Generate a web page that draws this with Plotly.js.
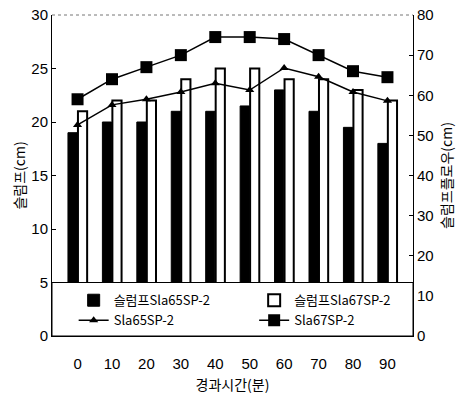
<!DOCTYPE html>
<html><head><meta charset="utf-8">
<script src="https://cdn.plot.ly/plotly-3.0.1.min.js"></script>
<style>body{margin:0;background:#fff}</style>
</head><body>
<div id="chart" style="width:469px;height:401px"></div>
<script>
var times = ['0','10','20','30','40','50','60','70','80','90'];
var slump65 = [19, 20, 20, 21, 21, 21.5, 23, 21, 19.5, 18];
var slump67 = [21, 22, 22, 24, 25, 25, 24, 24, 23, 22];
var flow65 = [52.6, 57.6, 59, 60.8, 63, 61.3, 66.8, 64.6, 60.8, 58.6];
var flow67 = [59, 64, 67, 70, 74.5, 74.5, 74, 70, 66, 64.5];
var names = ['슬럼프Sla65SP-2', '슬럼프Sla67SP-2', 'Sla65SP-2', 'Sla67SP-2'];

var tickFont = {family: 'Liberation Sans, Arial', size: 15, color: '#000'};
var cjk = 'Noto Sans CJK KR, sans-serif';

var traces = [
  {type: 'bar', x: times, y: slump65, name: names[0], legend: 'legend',
   marker: {color: '#000', line: {color: '#000', width: 1}}},
  {type: 'bar', x: times, y: slump67, name: names[1], legend: 'legend2',
   marker: {color: '#fff', line: {color: '#000', width: 2}}},
  {type: 'scatter', mode: 'lines+markers', x: times, y: flow65, yaxis: 'y2', name: names[2], legend: 'legend',
   line: {color: '#000', width: 1.5}, marker: {symbol: 'triangle-up', size: 8, color: '#000'}},
  {type: 'scatter', mode: 'lines+markers', x: times, y: flow67, yaxis: 'y2', name: names[3], legend: 'legend2',
   line: {color: '#000', width: 1.5}, marker: {symbol: 'square', size: 12, color: '#000'}}
];

var legFont = {family: cjk, size: 13, color: '#000'};
var layout = {
  width: 469, height: 401,
  margin: {l: 52, r: 56, t: 15, b: 65},
  paper_bgcolor: '#fff', plot_bgcolor: '#fff',
  showlegend: true,
  bargap: 0.42, bargroupgap: 0.08,
  xaxis: {type: 'category', tickfont: tickFont, showgrid: false, zeroline: false,
          showline: true, linecolor: '#000', linewidth: 1, ticks: '', ticklabelstandoff: 14,
          title: {text: '경과시간(분)', font: {family: cjk, size: 14, color: '#000'}, standoff: 9}},
  yaxis: {range: [0, 30], dtick: 5, tickfont: tickFont, showgrid: false, zeroline: false,
          showline: true, linecolor: '#000', linewidth: 1, ticks: 'inside', ticklen: 4, tickcolor: '#000',
          title: {text: '슬럼프(cm)', font: {family: cjk, size: 14, color: '#000'}, standoff: 2}},
  yaxis2: {range: [0, 80], dtick: 10, overlaying: 'y', side: 'right', tickfont: tickFont,
          showgrid: false, zeroline: false, showline: true, linecolor: '#000', linewidth: 1,
          ticks: 'inside', ticklen: 4, tickcolor: '#000',
          title: {text: '슬럼프플로우(cm)', font: {family: cjk, size: 14, color: '#000'}, standoff: 9}},
  shapes: [
    {type: 'rect', xref: 'paper', yref: 'y', x0: 0, x1: 1, y0: 0, y1: 5, layer: 'above',
     fillcolor: '#fff', line: {color: '#000', width: 1}},
    {type: 'line', xref: 'paper', yref: 'paper', x0: 0, x1: 1, y0: 1, y1: 1,
     line: {color: '#777', width: 1, dash: 'dot'}}
  ],
  legend: {orientation: 'v', x: 0.06, y: 0.158, xanchor: 'left', yanchor: 'top',
           bgcolor: 'rgba(0,0,0,0)', borderwidth: 0, traceorder: 'normal',
           itemwidth: 30, tracegroupgap: 0, font: legFont},
  legend2: {orientation: 'v', x: 0.56, y: 0.158, xanchor: 'left', yanchor: 'top',
           bgcolor: 'rgba(0,0,0,0)', borderwidth: 0, traceorder: 'normal',
           itemwidth: 30, tracegroupgap: 0, font: legFont}
};

Plotly.newPlot('chart', traces, layout, {displayModeBar: false, staticPlot: true});
</script>
</body></html>
